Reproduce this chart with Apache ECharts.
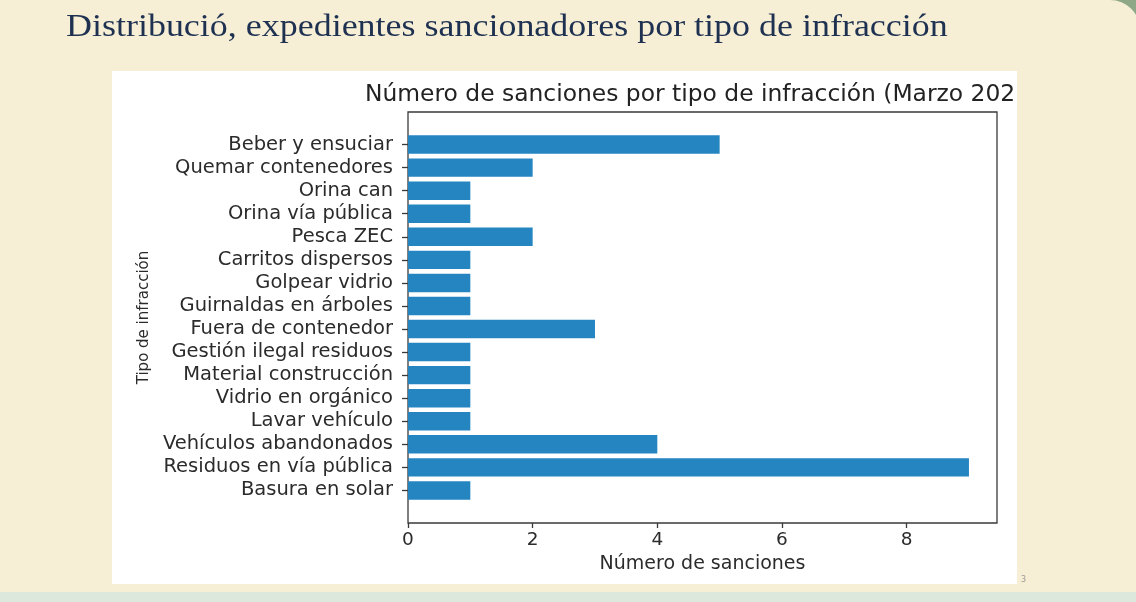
<!DOCTYPE html>
<html>
<head>
<meta charset="utf-8">
<script src="https://cdn.jsdelivr.net/npm/echarts@6/dist/echarts.min.js"></script>
<style>
  html, body { margin: 0; padding: 0; background: #dce8dc; }
  #chart { width: 1136px; height: 602px; }
</style>
</head>
<body>
<div id="chart"></div>
<script>
// categorías de abajo hacia arriba (como en el eje de matplotlib)
const categories = [
  'Basura en solar', 'Residuos en vía pública', 'Vehículos abandonados', 'Lavar vehículo',
  'Vidrio en orgánico', 'Material construcción', 'Gestión ilegal residuos', 'Fuera de contenedor',
  'Guirnaldas en árboles', 'Golpear vidrio', 'Carritos dispersos', 'Pesca ZEC',
  'Orina vía pública', 'Orina can', 'Quemar contenedores', 'Beber y ensuciar'
];
const sanciones = [1, 9, 4, 1, 1, 1, 1, 3, 1, 1, 1, 2, 1, 1, 2, 5];
const xTicks = [0, 2, 4, 6, 8];

const slideTitle = 'Distribució, expedientes sancionadores por tipo de infracción';
const chartTitle = 'Número de sanciones por tipo de infracción (Marzo 202';

// zona del gráfico (marco de los ejes)
const plot = { left: 408, top: 112, width: 589, height: 411 };

// márgenes tipo matplotlib: 5% en cada eje
const n = categories.length;
const xMax = Math.max(...sanciones) * 1.05;
const ySpan = (n - 0.2) * 1.1;
const padPx = plot.height * (0.05 * (n - 0.2) + 0.1) / ySpan;

const myChart = echarts.init(document.getElementById('chart'));

const option = {
  animation: false,
  backgroundColor: '#dce8dc',
  graphic: [
    { type: 'rect', z: -30, shape: { x: 1080, y: 0, width: 56, height: 60 }, style: { fill: '#8ea887' } },
    { type: 'rect', z: -20, shape: { x: 0, y: 0, width: 1140, height: 592, r: [0, 30, 0, 0] }, style: { fill: '#f6efd6' } },
    { type: 'rect', z: -10, shape: { x: 112, y: 71, width: 905, height: 513 }, style: { fill: '#ffffff' } },
    {
      type: 'text', z: 10, x: 66, y: 28, scaleX: 1.16,
      style: {
        text: slideTitle, fill: '#1f3151',
        font: '31px "Liberation Serif"', verticalAlign: 'middle'
      }
    },
    {
      type: 'text', z: 10, x: 365, y: 95,
      style: {
        text: chartTitle, fill: '#222',
        font: '23.4px "DejaVu Sans"', verticalAlign: 'middle'
      }
    },
    {
      type: 'text', z: 10, x: 1021, y: 580,
      style: { text: '3', fill: '#999', font: '8px "DejaVu Sans"', verticalAlign: 'middle' }
    }
  ],
  grid: [
    {
      left: plot.left, top: plot.top, width: plot.width, height: plot.height,
      show: true, borderColor: '#3a3a3a', borderWidth: 1.3, backgroundColor: 'transparent'
    },
    {
      left: plot.left, top: plot.top + padPx, width: plot.width, height: plot.height - 2 * padPx
    }
  ],
  xAxis: [
    {
      type: 'value', gridIndex: 0, min: 0, max: xMax,
      splitLine: { show: false },
      axisLine: { show: false },
      axisTick: { show: true, length: 5, lineStyle: { color: '#3a3a3a', width: 1.3 }, customValues: xTicks },
      axisLabel: { customValues: xTicks, margin: 8, color: '#2b2b2b', fontSize: 18.5, fontFamily: 'DejaVu Sans' },
      name: 'Número de sanciones', nameLocation: 'middle', nameGap: 28,
      nameTextStyle: { color: '#2b2b2b', fontSize: 19, fontFamily: 'DejaVu Sans' }
    },
    {
      type: 'value', gridIndex: 1, min: 0, max: xMax, show: false
    }
  ],
  yAxis: [
    { type: 'value', gridIndex: 0, show: false },
    {
      type: 'category', gridIndex: 1, data: categories,
      axisLine: { show: false },
      axisTick: { show: true, interval: 0, alignWithLabel: true, length: 6, lineStyle: { color: '#3a3a3a', width: 1.3 } },
      axisLabel: { interval: 0, margin: 15, color: '#2b2b2b', fontSize: 19.5, fontFamily: 'DejaVu Sans' },
      name: 'Tipo de infracción', nameLocation: 'middle', nameGap: 255,
      nameTextStyle: { color: '#2b2b2b', fontSize: 15, fontFamily: 'DejaVu Sans' }
    }
  ],
  series: [
    {
      type: 'bar', xAxisIndex: 1, yAxisIndex: 1,
      data: sanciones, barWidth: '80%',
      itemStyle: { color: '#2485c1' }
    }
  ]
};

myChart.setOption(option);
</script>
</body>
</html>
